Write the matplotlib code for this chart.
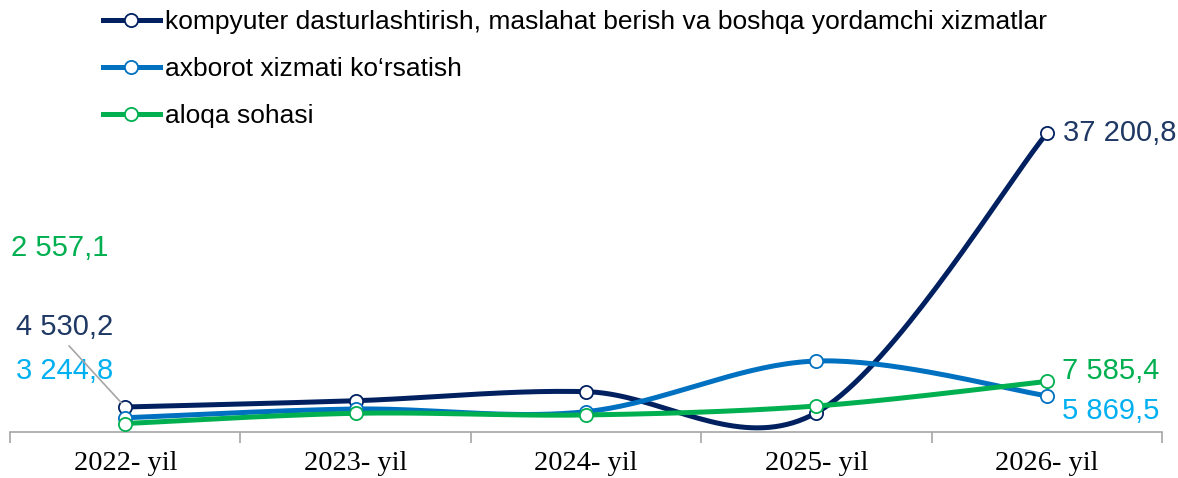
import numpy as np
import matplotlib
matplotlib.use('Agg')
import matplotlib.pyplot as plt

years = ['2022- yil', '2023- yil', '2024- yil', '2025- yil', '2026- yil']

series_names = [
    'kompyuter dasturlashtirish, maslahat berish va boshqa yordamchi xizmatlar',
    'axborot xizmati ko\u2018rsatish',
    'aloqa sohasi',
]
kompyuter = [4530.2, 5280, 6360, 3850, 37200.8]
axborot = [3244.8, 4290, 3970, 10020, 5869.5]
aloqa = [2557.1, 3780, 3580, 4650, 7585.4]

line_colors = ['#002060', '#0070C0', '#00B050']
label_colors = ['#1F3864', '#00B0F0', '#00B050']


def smooth(y, n=40):
    # Bezier smoothing like in office charts (catmull-rom control points)
    x = np.arange(len(y), dtype=float)
    y = np.asarray(y, dtype=float)
    px, py = [], []
    for i in range(len(y) - 1):
        x0, y0 = (x[i - 1], y[i - 1]) if i > 0 else (x[i], y[i])
        x3, y3 = (x[i + 2], y[i + 2]) if i + 2 < len(y) else (x[i + 1], y[i + 1])
        c1x = x[i] + (x[i + 1] - x0) / 6
        c1y = y[i] + (y[i + 1] - y0) / 6
        c2x = x[i + 1] - (x3 - x[i]) / 6
        c2y = y[i + 1] - (y3 - y[i]) / 6
        t = np.linspace(0, 1, n)
        bx = (1 - t) ** 3 * x[i] + 3 * (1 - t) ** 2 * t * c1x + 3 * (1 - t) * t ** 2 * c2x + t ** 3 * x[i + 1]
        by = (1 - t) ** 3 * y[i] + 3 * (1 - t) ** 2 * t * c1y + 3 * (1 - t) * t ** 2 * c2y + t ** 3 * y[i + 1]
        px.extend(bx)
        py.extend(by)
    return px, py


fig = plt.figure(figsize=(11.78, 4.78), dpi=100)
W, H = 1178, 478
ax = fig.add_axes([10 / W, (H - 432) / H, 1152 / W, (432 - 40) / H])

xs = np.arange(len(years))
handles = []
for vals, col in zip([kompyuter, axborot, aloqa], line_colors):
    sx, sy = smooth(vals)
    ax.plot(sx, sy, color=col, lw=3.6, solid_capstyle='round', zorder=3)
    ax.plot(xs, vals, 'o', ms=9.5, mfc='white', mec=col, mew=1.3, zorder=4)
    h, = ax.plot([], [], color=col, lw=3.6, marker='o', ms=9.5, mfc='white', mec=col, mew=1.3)
    handles.append(h)

ax.set_xlim(-0.5, 4.5)
ax.set_ylim(1545, 48350)

for s in ['top', 'right', 'left']:
    ax.spines[s].set_visible(False)
ax.spines['bottom'].set_color('#A6A6A6')
ax.spines['bottom'].set_linewidth(1.2)
ax.set_yticks([])
ax.set_xticks(np.arange(-0.5, 5, 1))
ax.set_xticklabels([])
ax.set_xticks(xs, minor=True)
ax.set_xticklabels(years, minor=True, fontfamily='Liberation Serif', fontsize=20.5)
ax.tick_params(axis='x', which='major', length=8, width=1.2, color='#A6A6A6', direction='out')
ax.tick_params(axis='x', which='minor', length=0, pad=14)

fs = 21
fam = 'Liberation Sans'


def fmt(v):
    s = f'{v:,.1f}'
    return s.replace(',', ' ').replace('.', ',')


# left labels
ax.annotate(fmt(kompyuter[0]), (0, kompyuter[0]), xytext=(-12, 80), textcoords='offset pixels',
            ha='right', va='center', color=label_colors[0], fontsize=fs, family=fam,
            arrowprops=dict(arrowstyle='-', color='#A6A6A6', lw=1.2, shrinkA=2, shrinkB=4,
                            relpos=(0.5, 0)), zorder=5)
ax.annotate(fmt(axborot[0]), (0, axborot[0]), xytext=(-12, 47), textcoords='offset pixels',
            ha='right', va='center', color=label_colors[1], fontsize=fs, family=fam)
ax.annotate(fmt(aloqa[0]), (0, aloqa[0]), xytext=(-17, 176), textcoords='offset pixels',
            ha='right', va='center', color=label_colors[2], fontsize=fs, family=fam)

# right labels
ax.annotate(fmt(kompyuter[-1]), (4, kompyuter[-1]), xytext=(16, 0), textcoords='offset pixels',
            ha='left', va='center', color=label_colors[0], fontsize=fs, family=fam)
ax.annotate(fmt(aloqa[-1]), (4, aloqa[-1]), xytext=(15, 10), textcoords='offset pixels',
            ha='left', va='center', color=label_colors[2], fontsize=fs, family=fam)
ax.annotate(fmt(axborot[-1]), (4, axborot[-1]), xytext=(15, -15), textcoords='offset pixels',
            ha='left', va='center', color=label_colors[1], fontsize=fs, family=fam)

fig.legend(handles, series_names, loc='upper left', bbox_to_anchor=(103 / W, 1 - 10 / H),
           frameon=False, prop={'family': fam, 'size': 19}, handlelength=2.15,
           handletextpad=0.19, labelspacing=0.88, borderaxespad=0, borderpad=0)

fig.savefig('out.png', dpi=100)
